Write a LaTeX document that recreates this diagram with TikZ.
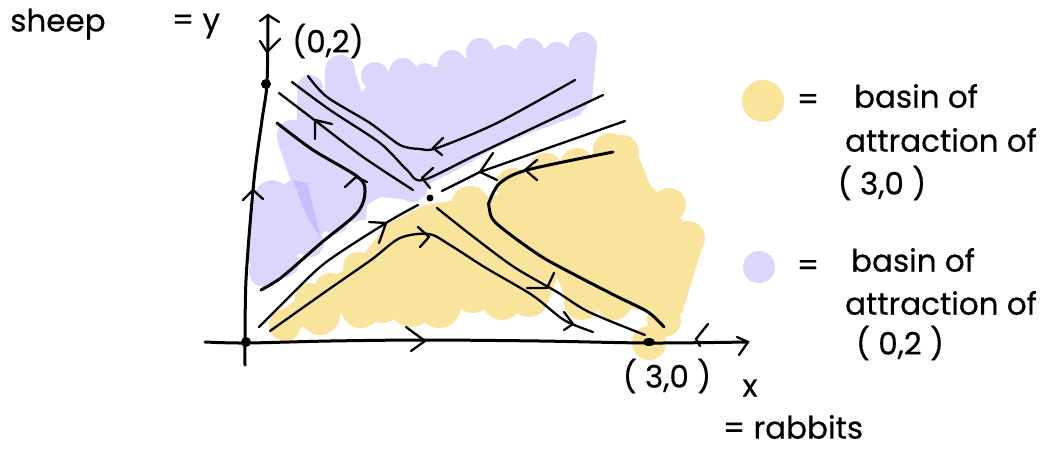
\documentclass[tikz,border=0pt]{standalone}
\usepackage{fontspec}
\setmainfont{Poppins}[FakeBold=0.4]
\usetikzlibrary{calc,positioning}
\definecolor{BasinYellow}{RGB}{249,228,155}
\definecolor{BasinLilac}{RGB}{220,213,252}
\definecolor{LilacOverlap}{RGB}{200,190,252}
\tikzset{
  orbit/.style={line width=2.3pt,line cap=round,line join=round},
  orbitThick/.style={line width=3pt,line cap=round,line join=round},
  hand/.style={font=\fontsize{31}{33}\selectfont,inner sep=0pt},
}
\begin{document}
\begin{tikzpicture}[x=1pt,y=-1pt]
  \useasboundingbox (0,0) rectangle (1057,448);
  % lilac basin
  \fill[BasinLilac] (340,70)--(355,72)--(362,92)--(375,76)--(403,72)--(452,64)--(480,52)--(583,46)
    --(597,45)--(592,100)--(580,115)--(530,133)--(497,147)--(457,170)--(430,183)--(425,195)--(410,200)--(380,197)
    --(367,205)--(366,220)--(335,222)--(310,245)--(285,265)--(262,272)--(248,263)--(252,200)--(272,195)--(295,195)
    --(293,187)--(277,140)--(292,135)--(297,123)--(297,85)--(310,88)--(325,90)--(325,70)--cycle;
  \foreach \x/\y/\r in {583/46/14,557/56/14,530/52/14,505/59/14,480/52/14,452/64/14,425/75/12,403/72/14,375/76/14,340/70/15,310/88/13,
      292/135/15,272/197/17,295/195/15,264/272/15,285/263/14,310/243/14,335/220/14,353/208/14,395/185/12,412/187/15}
    \fill[BasinLilac] (\x,\y) circle (\r);
  \fill[LilacOverlap] (293,180)--(307,183)--(321,238)--(307,217)--cycle;
  % yellow basin
  \fill[BasinYellow] (425,205)--(457,200)--(497,195)--(530,175)--(577,165)--(610,150)--(638,155)--(650,185)
    --(669,205)--(703,245)--(682,313)--(668,315)--(640,310)--(614,305)--(582,305)--(566,300)--(557,277)--(549,300)
    --(529,300)--(473,295)--(439,310)--(382,305)--(320,318)--(285,335)--(272,330)--(282,310)--(300,297)--(357,262)--(389,223)--cycle;
  \foreach \x/\y/\r in {622/152/17,610/150/17,577/165/17,546/170/17,513/185/17,470/205/19,669/205/17,688/238/17,
      664/320/17,614/302/18,582/302/18,529/297/20,502/300/20,473/293/20,439/306/22,411/305/22,382/303/20,
      361/308/20,320/315/20,285/325/16,310/298/15,330/288/15,358/267/15}
    \fill[BasinYellow] (\x,\y) circle (\r);
  \fill[BasinYellow] (649,343) circle (17);
  % legend swatches
  \fill[BasinYellow] (763,101) circle (21);
  \fill[BasinLilac] (759,267) circle (16);
  % axes
  \draw[orbitThick] plot[smooth] coordinates {(205,342)(246,343)(330,341)(425,340)(540,341)(649,343)(748,342)};
  \draw[orbitThick] plot[smooth] coordinates {(245,365)(246,280)(254,180)(262,120)(267,83)(268,15)};
  \fill (246,342) circle (5);
  \fill (266,84) circle (5);
  \fill (430,198) circle (3.5);
  \fill (649,342) ellipse (6 and 4);
  % orbits
  \draw[orbit] plot[smooth] coordinates {(308,76)(327,97)(370,123)(400,145)(420,149)(437,148)(497,123)(575,80)};
  \draw[orbit] plot[smooth] coordinates {(292,82)(330,110)(380,143)(407,170)(423,180)(480,153)(603,95)};
  \draw[orbit] plot[smooth] coordinates {(279,93)(317,122)(363,157)(413,190)};
  \draw[orbitThick] plot[smooth] coordinates {(277,123)(313,150)(358,177)(365,192)(357,213)(321,243)(282,277)(261,290)};
  \draw[orbit] (442,191)--(480,172)--(625,121);
  \draw[orbitThick] plot[smooth] coordinates {(613,152)(527,170)(500,183)(490,200)(489,207)(496,223)(539,255)(579,277)(618,297)(648,312)(664,327)};
  \draw[orbit] plot[smooth] coordinates {(437,208)(471,235)(514,267)(557,292)(589,312)(645,335)};
  \draw[orbit] plot[smooth] coordinates {(418,205)(386,223)(325,263)(286,300)(259,327)};
  \draw[orbit] plot[smooth] coordinates {(270,331)(325,292)(371,260)(400,238)(429,234)(450,245)(486,268)(532,295)(564,320)(593,332)};
  % arrowheads
  \foreach \ax/\ay/\tx/\ty/\bx/\by in {260/21/268/15/279/22, 260/41/267/52/280/39, 243/200/253/190/263/199,
      406/327/425/341/411/351, 708/324/696/339/700/346, 737/337/748/342/739/355,
      443/138/433/148/442/155, 433/168/422/178/430/188, 332/124/315/120/315/139, 345/187/356/177/367/182,
      493/153/480/172/497/180, 537/160/525/170/537/180, 527/288/547/288/554/273, 369/222/386/223/379/243,
      418/227/429/237/420/247, 564/312/573/324/564/330}
    \draw[orbit] (\ax,\ay)--(\tx,\ty)--(\bx,\by);
  % labels
  \node[hand] (sheepLabel) at (58,24) {sheep};
  \node[hand] (yLabel) at (196,26) {= y};
  \node[hand] (saddleTop) at (328,41) {(0,2)};
  \node[hand] (stableLabel) at (667,376) {( 3,0 )};
  \node[hand] (xLabel) at (750,388) {x};
  \node[hand] (rabbitLabel) at (793,427) {= rabbits};
  \node[hand] (eqYellow) at (808,102) {=};
  \node[hand] (basinYellow) at (916,96) {basin of};
  \node[hand] (attrYellow) at (941,140) {attraction of};
  \node[hand] (pointYellow) at (882,183) {( 3,0 )};
  \node[hand] (eqLilac) at (808,268) {=};
  \node[hand] (basinLilac) at (913,260) {basin of};
  \node[hand] (attrLilac) at (941,303) {attraction of};
  \node[hand] (pointLilac) at (900,343) {( 0,2 )};
\end{tikzpicture}
\end{document}
